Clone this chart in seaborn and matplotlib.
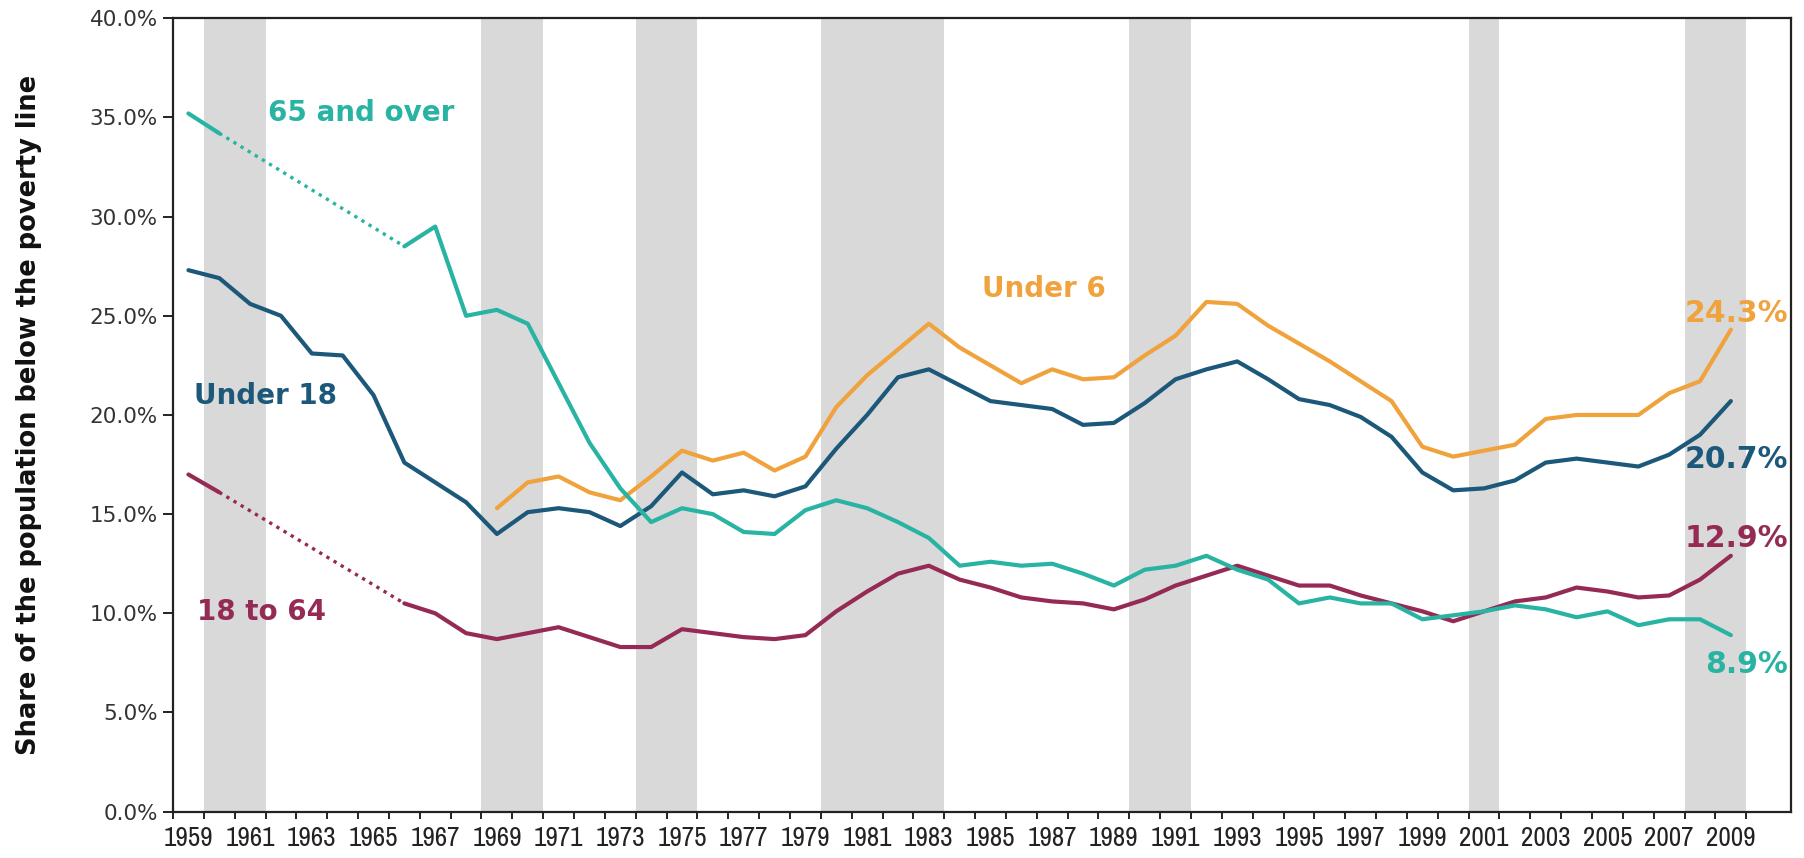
import numpy as np
import pandas as pd
import matplotlib
matplotlib.use("Agg")
import matplotlib.pyplot as plt
import seaborn as sns
from matplotlib import font_manager

# -----------------------------
# Data (share of population below poverty line, %)
# -----------------------------
years = list(range(1959, 2010))

under_18 = [27.3, 26.9, 25.6, 25.0, 23.1, 23.0, 21.0, 17.6, 16.6, 15.6,
            14.0, 15.1, 15.3, 15.1, 14.4, 15.4, 17.1, 16.0, 16.2, 15.9,
            16.4, 18.3, 20.0, 21.9, 22.3, 21.5, 20.7, 20.5, 20.3, 19.5,
            19.6, 20.6, 21.8, 22.3, 22.7, 21.8, 20.8, 20.5, 19.9, 18.9,
            17.1, 16.2, 16.3, 16.7, 17.6, 17.8, 17.6, 17.4, 18.0, 19.0, 20.7]

under_6 = [np.nan] * 10 + [
            15.3, 16.6, 16.9, 16.1, 15.7, 16.9, 18.2, 17.7, 18.1, 17.2,
            17.9, 20.4, 22.0, 23.3, 24.6, 23.4, 22.5, 21.6, 22.3, 21.8,
            21.9, 23.0, 24.0, 25.7, 25.6, 24.5, 23.6, 22.7, 21.7, 20.7,
            18.4, 17.9, 18.2, 18.5, 19.8, 20.0, 20.0, 20.0, 21.1, 21.7, 24.3]

age_18_64 = [17.0, 16.1] + [np.nan] * 5 + [
            10.5, 10.0, 9.0,
            8.7, 9.0, 9.3, 8.8, 8.3, 8.3, 9.2, 9.0, 8.8, 8.7,
            8.9, 10.1, 11.1, 12.0, 12.4, 11.7, 11.3, 10.8, 10.6, 10.5,
            10.2, 10.7, 11.4, 11.9, 12.4, 11.9, 11.4, 11.4, 10.9, 10.5,
            10.1, 9.6, 10.1, 10.6, 10.8, 11.3, 11.1, 10.8, 10.9, 11.7, 12.9]

age_65_over = [35.2, 34.2] + [np.nan] * 5 + [
            28.5, 29.5, 25.0,
            25.3, 24.6, 21.6, 18.6, 16.3, 14.6, 15.3, 15.0, 14.1, 14.0,
            15.2, 15.7, 15.3, 14.6, 13.8, 12.4, 12.6, 12.4, 12.5, 12.0,
            11.4, 12.2, 12.4, 12.9, 12.2, 11.7, 10.5, 10.8, 10.5, 10.5,
            9.7, 9.9, 10.1, 10.4, 10.2, 9.8, 10.1, 9.4, 9.7, 9.7, 8.9]

# recession years (shaded)
recession_start = [1960, 1969, 1974, 1980, 1990, 2001, 2008]
recession_end = [1961, 1970, 1975, 1983, 1991, 2001, 2009]

groups = ["Under 18", "Under 6", "18 to 64", "65 and over"]
colors = {"Under 18": "#1c5879", "Under 6": "#f0a23c",
          "18 to 64": "#952a55", "65 and over": "#28b3a3"}

df = pd.DataFrame({"year": years, "Under 18": under_18, "Under 6": under_6,
                   "18 to 64": age_18_64, "65 and over": age_65_over})

# -----------------------------
# Split into solid segments and dotted gap connectors
# -----------------------------
solid_parts = []
gap_parts = []
for g in groups:
    s = df[["year", g]].rename(columns={g: "rate"})
    s["group"] = g
    missing = s["rate"].isna()
    s["segment"] = g + "-" + missing.cumsum().astype(str)
    valid = s[~missing]
    solid_parts.append(valid)
    # last point before an interior gap and first point after it
    first_i, last_i = valid.index.min(), valid.index.max()
    before = valid[missing.shift(-1, fill_value=False)[valid.index]]
    after = valid[missing.shift(1, fill_value=False)[valid.index]]
    after = after[after.index > first_i]
    before = before[before.index < last_i]
    if len(before) and len(after):
        gap_parts.append(pd.concat([before, after]).assign(segment=g + "-gap"))

solid = pd.concat(solid_parts, ignore_index=True)
gaps = pd.concat(gap_parts, ignore_index=True)

# -----------------------------
# Fonts
# -----------------------------
sns.set_theme(style="ticks")
plt.rcParams["font.family"] = ["DejaVu Sans"]

# a condensed face for the year labels, if one is installed
cands = [f for f in font_manager.fontManager.ttflist
         if ("Narrow" in f.name or "Condensed" in f.name
             or f.stretch in ("condensed", "semi-condensed"))
         and f.style == "normal"]
cands.sort(key=lambda f: (f.weight not in (400, "normal", "regular"), f.name))
if cands:
    narrow_fp = font_manager.FontProperties(fname=cands[0].fname, size=19.5)
else:
    narrow_fp = font_manager.FontProperties(family="Liberation Sans", size=15.5)

# -----------------------------
# Plot
# -----------------------------
fig = plt.figure(figsize=(18.04, 8.58), dpi=100)
ax = fig.add_axes([0.0959, 0.054, 0.8969, 0.9247])

for a, b in zip(recession_start, recession_end):
    ax.axvspan(a - 0.5, b + 0.5, color="#d9d9d9", lw=0, zorder=0)

sns.lineplot(data=solid, x="year", y="rate", hue="group", units="segment",
             estimator=None, palette=colors, linewidth=3.0, legend=False,
             ax=ax, zorder=3)
sns.lineplot(data=gaps, x="year", y="rate", hue="group", units="segment",
             estimator=None, palette=colors, linewidth=2.4, legend=False,
             ax=ax, zorder=3, linestyle=(0, (1, 1.5)))

ax.set_xlim(1958.5, 2010.95)
ax.set_ylim(0, 40)

# year boundaries get tick marks, labels sit at year centres
ax.set_xticks(np.arange(1958.5, 2010.0, 1.0))
ax.set_xticklabels([])
ax.set_xticks(years[::2], minor=True)
ax.set_xticklabels([str(y) for y in years[::2]], minor=True,
                   fontproperties=narrow_fp, color="#222222")
ax.tick_params(axis="x", which="major", length=5, width=1.4, color="#222222")
ax.tick_params(axis="x", which="minor", length=0, pad=10)

ax.set_yticks(np.arange(0, 41, 5))
ax.set_yticklabels([f"{v:.1f}%" for v in np.arange(0, 41, 5)],
                   fontsize=15.5, color="#333333")
ax.tick_params(axis="y", length=7, width=1.4, color="#222222", pad=4)

ax.set_xlabel("")
ax.set_ylabel("Share of the population below the poverty line",
              fontsize=18.5, fontweight="bold", color="#111111")
ax.yaxis.set_label_coords(-0.081, 0.5)

for side in ["left", "bottom", "top", "right"]:
    ax.spines[side].set_linewidth(1.6)
    ax.spines[side].set_color("#222222")

# series labels
label_kw = dict(fontsize=20, fontweight="bold", va="baseline", zorder=4)
ax.text(1961.59, 34.81, "65 and over", color=colors["65 and over"], ha="left", **label_kw)
ax.text(1959.19, 20.56, "Under 18", color=colors["Under 18"], ha="left", **label_kw)
ax.text(1984.73, 25.95, "Under 6", color=colors["Under 6"], ha="left", **label_kw)
ax.text(1959.29, 9.67, "18 to 64", color=colors["18 to 64"], ha="left", **label_kw)

# end values
end_kw = dict(fontsize=21.5, fontweight="bold", va="baseline", ha="right", zorder=4)
ax.text(2010.85, 24.71, f"{under_6[-1]:.1f}%", color=colors["Under 6"], **end_kw)
ax.text(2010.85, 17.32, f"{under_18[-1]:.1f}%", color=colors["Under 18"], **end_kw)
ax.text(2010.85, 13.36, f"{age_18_64[-1]:.1f}%", color=colors["18 to 64"], **end_kw)
ax.text(2010.85, 6.98, f"{age_65_over[-1]:.1f}%", color=colors["65 and over"], **end_kw)

fig.savefig("out.png", dpi=100)
plt.close(fig)
